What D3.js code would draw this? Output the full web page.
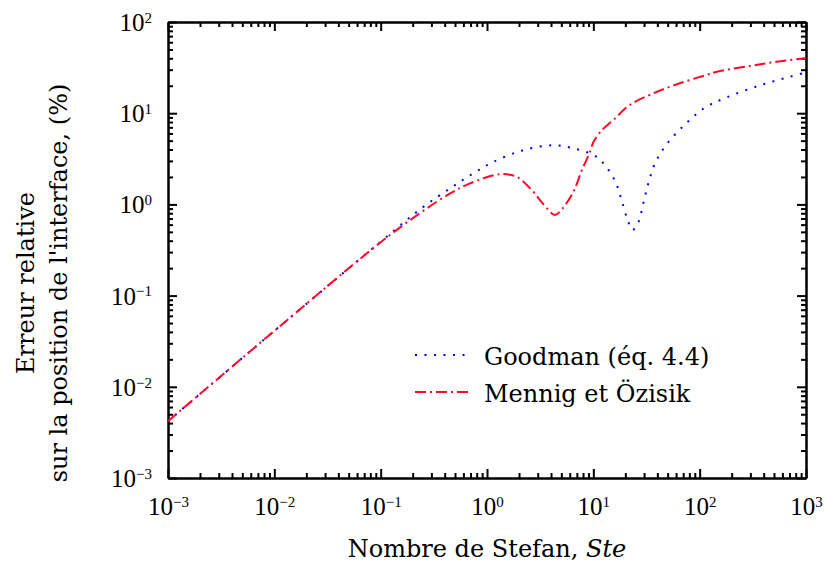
<!DOCTYPE html>
<html lang="fr">
<head>
  <meta charset="UTF-8">
  <title>Erreur relative - Ste</title>
  <style>
    body { margin: 0; background: #fff; }
    text { font-family: "DejaVu Serif", serif; fill: #000; }
    .tick text { font-family: "Liberation Serif", serif; }
  </style>
</head>
<body>
<script src="https://d3js.org/d3.v7.min.js"></script>
<div id="d3_chart"></div>

<script>
  // DATA =========================================================================================
  const goodmanSte = [0.001, 0.01, 0.1, 0.243, 0.466, 0.72, 1.1, 2.12, 4.15, 6.5, 10, 12.2, 16,
                      18.5, 21, 23.3, 26.5, 29.5, 32.9, 38, 49, 73, 112, 179, 369, 700, 1000];
  const goodmanErr = [0.0042, 0.041, 0.39, 0.91, 1.54, 2.14, 2.85, 3.88, 4.45, 4.12, 3.48, 2.9, 1.81,
                      1.1, 0.675, 0.525, 0.635, 1.03, 1.7, 2.82, 4.57, 7.55, 11.5, 14.9, 20.2, 25, 28];

  const mennigSte = [0.001, 0.01, 0.1, 0.234, 0.45, 0.69, 1.19, 1.42, 1.9, 2.63, 3.38, 4.36, 5.0,
                     6.5, 7.8, 8.65, 9.4, 10, 12, 15.4, 22, 36.7, 65, 116, 145, 299, 530, 1000];
  const mennigErr = [0.0042, 0.041, 0.385, 0.8, 1.32, 1.7, 2.1, 2.15, 2.01, 1.44, 1.01, 0.765, 0.87,
                     1.38, 2.38, 3.1, 3.9, 4.8, 6.5, 8.4, 12.3, 16.5, 21.3, 26.3, 28.5, 33, 36.7, 40];

  const xDomain = [1e-3, 1e3];
  const yDomain = [1e-3, 1e2];

  const seriesNames = ["Goodman (éq. 4.4)", "Mennig et Özisik"];

  // PLOT AREA ====================================================================================
  const W = 824, H = 572;
  const margin = {top: 22, right: 18, bottom: 94, left: 168},
      width = W - margin.left - margin.right,
      height = H - margin.top - margin.bottom;

  const svg = d3.select("#d3_chart")
    .append("svg")
      .attr("width", W)
      .attr("height", H);

  const g = svg.append("g")
      .attr("transform", `translate(${margin.left},${margin.top})`);

  // SCALES =======================================================================================
  const x = d3.scaleLog().domain(xDomain).range([0, width]);
  const y = d3.scaleLog().domain(yDomain).range([height, 0]);

  const isMajor = v => Math.abs(Math.log10(v) - Math.round(Math.log10(v))) < 1e-9;
  const xMajor = x.ticks().filter(isMajor), xMinor = x.ticks().filter(v => !isMajor(v));
  const yMajor = y.ticks().filter(isMajor), yMinor = y.ticks().filter(v => !isMajor(v));

  function powLabel(sel) {
    sel.selectAll(".tick text").each(function(d) {
      const t = d3.select(this);
      const e = Math.round(Math.log10(d));
      t.text(null).attr("font-size", 25);
      t.append("tspan").text("10");
      t.append("tspan").attr("dy", "-0.55em").attr("font-size", 15)
        .text(e < 0 ? "\u2212" + (-e) : e);
    });
  }

  function styleAxis(sel) {
    sel.select(".domain").attr("stroke", "#000").attr("stroke-width", 2);
    sel.selectAll(".tick line").attr("stroke", "#000").attr("stroke-width", 2);
  }

  // AXES =========================================================================================
  // bottom
  g.append("g").attr("transform", `translate(0,${height})`)
    .call(d3.axisBottom(x).tickValues(xMinor).tickSizeInner(-5).tickSizeOuter(0).tickFormat(""))
    .call(styleAxis);
  const xb = g.append("g").attr("transform", `translate(0,${height})`)
    .call(d3.axisBottom(x).tickValues(xMajor).tickSizeInner(-9).tickSizeOuter(0))
    .call(styleAxis);
  xb.selectAll(".tick text").attr("y", 37).attr("dy", 0);
  xb.call(powLabel);

  // left
  g.append("g")
    .call(d3.axisLeft(y).tickValues(yMinor).tickSizeInner(-5).tickSizeOuter(0).tickFormat(""))
    .call(styleAxis);
  const yl = g.append("g")
    .call(d3.axisLeft(y).tickValues(yMajor).tickSizeInner(-9).tickSizeOuter(0))
    .call(styleAxis);
  yl.selectAll(".tick text").attr("x", -16).attr("dy", "0.34em");
  yl.call(powLabel);

  // top and right, ticks only
  g.append("g")
    .call(d3.axisTop(x).tickValues(xMinor).tickSizeInner(-5).tickSizeOuter(0).tickFormat(""))
    .call(styleAxis);
  g.append("g")
    .call(d3.axisTop(x).tickValues(xMajor).tickSizeInner(-9).tickSizeOuter(0).tickFormat(""))
    .call(styleAxis);
  g.append("g").attr("transform", `translate(${width},0)`)
    .call(d3.axisRight(y).tickValues(yMinor).tickSizeInner(-5).tickSizeOuter(0).tickFormat(""))
    .call(styleAxis);
  g.append("g").attr("transform", `translate(${width},0)`)
    .call(d3.axisRight(y).tickValues(yMajor).tickSizeInner(-9).tickSizeOuter(0).tickFormat(""))
    .call(styleAxis);

  // CURVES =======================================================================================
  const line = d3.line()
    .x(d => x(d[0]))
    .y(d => y(d[1]))
    .curve(d3.curveCatmullRom.alpha(0.5));

  const goodman = goodmanSte.map((v, i) => [v, goodmanErr[i]]);
  const mennig = mennigSte.map((v, i) => [v, mennigErr[i]]);

  const styles = [
    {color: "#0000ff", dash: "2,7.5"},
    {color: "#ff0a2a", dash: "11,4,2,4"}
  ];

  [goodman, mennig].forEach((data, i) => {
    g.append("path")
      .datum(data)
      .attr("fill", "none")
      .attr("stroke", styles[i].color)
      .attr("stroke-width", 2)
      .attr("stroke-dasharray", styles[i].dash)
      .attr("d", line);
  });

  // LEGEND =======================================================================================
  const legend = svg.append("g");
  seriesNames.forEach((name, i) => {
    const ly = 355 + i * 37;
    legend.append("line")
      .attr("x1", 415).attr("x2", 469).attr("y1", ly).attr("y2", ly)
      .attr("stroke", styles[i].color)
      .attr("stroke-width", 2)
      .attr("stroke-dasharray", styles[i].dash);
    legend.append("text")
      .attr("x", 484).attr("y", ly + 10)
      .attr("font-size", 24)
      .text(name);
  });

  // AXIS TITLES ==================================================================================
  const xt = svg.append("text")
    .attr("x", margin.left + width / 2).attr("y", 557)
    .attr("text-anchor", "middle")
    .attr("font-size", 24);
  xt.append("tspan").text("Nombre de Stefan, ");
  xt.append("tspan").attr("font-style", "italic").text("Ste");

  const yt = svg.append("text")
    .attr("transform", "translate(0,283) rotate(-90)")
    .attr("text-anchor", "middle")
    .attr("font-size", 24);
  yt.append("tspan").attr("x", 0).attr("y", 34).text("Erreur relative");
  yt.append("tspan").attr("x", 0).attr("y", 67).text("sur la position de l'interface, (%)");
</script>
</body>
</html>
